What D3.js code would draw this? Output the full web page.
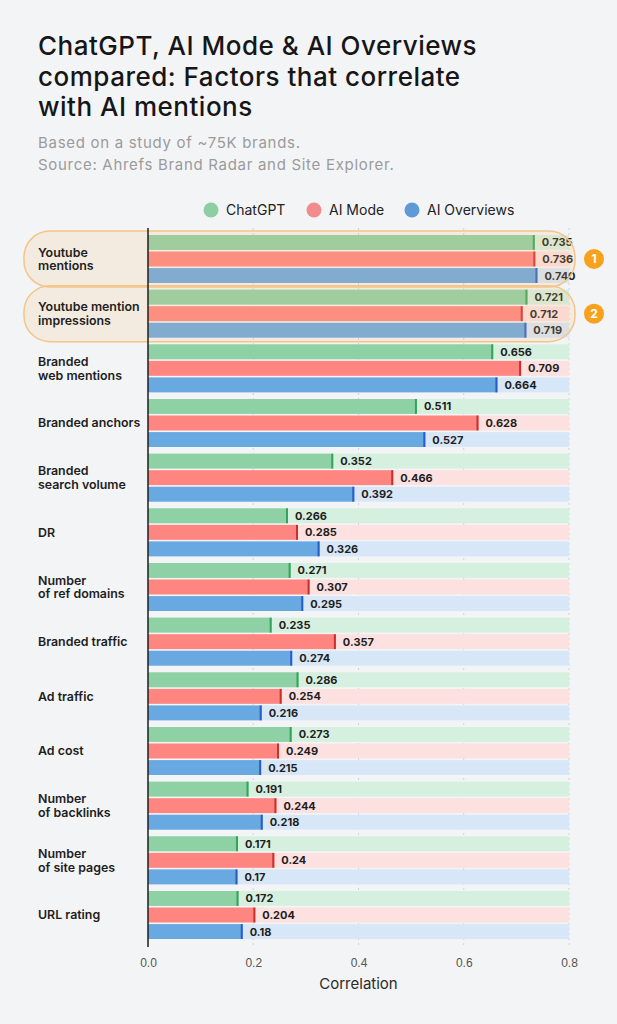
<!DOCTYPE html>
<html lang="en">
<head>
<meta charset="UTF-8">
<title>ChatGPT, AI Mode & AI Overviews compared</title>
<script src="https://cdnjs.cloudflare.com/ajax/libs/d3/7.8.5/d3.min.js"></script>
<style>
    body { margin: 0; background: #f3f4f6; }
    svg { display: block; font-family: Inter, "Noto Sans", sans-serif; }
    .title { font-size: 26px; font-weight: 500; fill: #161616; letter-spacing: 0.5px; }
    .subtitle { font-size: 15px; fill: #9b9b9b; letter-spacing: 0.7px; }
    .cat { font-size: 12.4px; font-weight: 600; fill: #1e1e1e; }
    .val { font-size: 11px; font-weight: 700; fill: #1e1e1e; }
    .tick text { font-size: 12px; fill: #555; }
</style>
</head>
<body>
<div id="chart"></div>
<script>
    // data
    const categories = [
        "Youtube\nmentions",
        "Youtube mention\nimpressions",
        "Branded\nweb mentions",
        "Branded anchors",
        "Branded\nsearch volume",
        "DR",
        "Number\nof ref domains",
        "Branded traffic",
        "Ad traffic",
        "Ad cost",
        "Number\nof backlinks",
        "Number\nof site pages",
        "URL rating"
    ];
    const series = ["ChatGPT", "AI Mode", "AI Overviews"];
    const chatgpt = ["0.735", "0.721", "0.656", "0.511", "0.352", "0.266", "0.271", "0.235", "0.286", "0.273", "0.191", "0.171", "0.172"];
    const aiMode = ["0.736", "0.712", "0.709", "0.628", "0.466", "0.285", "0.307", "0.357", "0.254", "0.249", "0.244", "0.24", "0.204"];
    const aiOverviews = ["0.740", "0.719", "0.664", "0.527", "0.392", "0.326", "0.295", "0.274", "0.216", "0.215", "0.218", "0.17", "0.18"];
    const ticks = [0, 0.2, 0.4, 0.6, 0.8];
    const highlighted = [0, 1];

    const colors = {
        "ChatGPT": { bar: "#8dd1a4", track: "#d6f0e0", cap: "#35a35a", dot: "#8dcea2" },
        "AI Mode": { bar: "#ff8580", track: "#fde0e0", cap: "#c9302b", dot: "#f08c8c" },
        "AI Overviews": { bar: "#69a9e1", track: "#d7e7f8", cap: "#2a5cc9", dot: "#5e9bd6" }
    };

    const rows = categories.map((c, i) => ({
        name: c,
        values: [chatgpt[i], aiMode[i], aiOverviews[i]].map((v, j) => ({ key: series[j], label: v, value: +v }))
    }));

    const width = 617, height = 1024;
    const svg = d3.select("#chart").append("svg")
        .attr("width", width)
        .attr("height", height);

    svg.append("rect").attr("width", width).attr("height", height).attr("fill", "#f3f4f6");

    // titles
    const title = svg.append("text").attr("class", "title").attr("x", 38).attr("y", 55);
    ["ChatGPT, AI Mode & AI Overviews", "compared: Factors that correlate", "with AI mentions"].forEach((t, i) => {
        title.append("tspan").attr("x", 38).attr("dy", i ? 30.5 : 0).text(t);
    });
    svg.append("text").attr("class", "subtitle").attr("x", 38).attr("y", 148).text("Based on a study of ~75K brands.");
    svg.append("text").attr("class", "subtitle").attr("x", 38).attr("y", 170).text("Source: Ahrefs Brand Radar and Site Explorer.");

    // legend
    const legendX = [211, 314, 412];
    const legend = svg.append("g").selectAll("g").data(series).join("g")
        .attr("transform", (d, i) => `translate(${legendX[i]},210)`);
    legend.append("circle").attr("r", 7.5).attr("fill", d => colors[d].dot);
    legend.append("text").attr("x", 15).attr("dy", "0.35em")
        .style("font-size", "14px").attr("fill", "#222").text(d => d);

    // scales
    const x = d3.scaleLinear().domain([0, 0.8]).range([148, 569]);
    const y = d3.scaleBand().domain(categories).range([235, 939]).paddingInner(0.122).paddingOuter(0);
    const ySub = d3.scaleBand().domain(series).range([0, y.bandwidth()]).paddingInner(0.1);

    const plotTop = 228, plotBottom = 947;

    // grid
    svg.append("g").selectAll("line").data(ticks.slice(1)).join("line")
        .attr("x1", d => x(d)).attr("x2", d => x(d))
        .attr("y1", plotTop).attr("y2", plotBottom)
        .attr("stroke", "#cfd3d8").attr("stroke-width", 1).attr("stroke-dasharray", "2,3");

    // bars
    const group = svg.append("g").selectAll("g").data(rows).join("g")
        .attr("transform", d => `translate(0,${y(d.name)})`);

    const bar = group.selectAll("g").data(d => d.values).join("g")
        .attr("transform", d => `translate(0,${ySub(d.key)})`);

    bar.append("rect")
        .attr("x", x(0)).attr("width", x(0.8) - x(0))
        .attr("height", ySub.bandwidth())
        .attr("fill", d => colors[d.key].track);
    bar.append("rect")
        .attr("x", x(0)).attr("width", d => x(d.value) - x(0))
        .attr("height", ySub.bandwidth())
        .attr("fill", d => colors[d.key].bar);
    bar.append("rect")
        .attr("x", d => x(d.value) - 2).attr("width", 2)
        .attr("height", ySub.bandwidth())
        .attr("fill", d => colors[d.key].cap);
    bar.append("text").attr("class", "val")
        .attr("x", d => x(d.value) + 7)
        .attr("y", ySub.bandwidth() / 2)
        .attr("dy", "0.36em")
        .text(d => d.label);

    // highlight boxes
    const hl = svg.append("g").selectAll("g").data(highlighted).join("g");
    hl.append("rect")
        .attr("x", 24).attr("width", 551)
        .attr("y", i => y(categories[i]) + y.bandwidth() / 2 - 28)
        .attr("height", 56)
        .attr("rx", 26)
        .attr("fill", "rgba(244,190,125,0.18)")
        .attr("stroke", "#f3c588").attr("stroke-width", 1.5);
    hl.append("circle")
        .attr("cx", 594)
        .attr("cy", i => y(categories[i]) + y.bandwidth() / 2)
        .attr("r", 10)
        .attr("fill", "#f7a11d");
    hl.append("text")
        .attr("x", 594)
        .attr("y", i => y(categories[i]) + y.bandwidth() / 2)
        .attr("dy", "0.36em")
        .attr("text-anchor", "middle")
        .attr("fill", "#fff").style("font-size", "12px").style("font-weight", 700)
        .text(i => i + 1);

    // category labels
    const cat = svg.append("g").selectAll("text").data(rows).join("text")
        .attr("class", "cat")
        .attr("y", d => y(d.name) + y.bandwidth() / 2);
    cat.each(function(d) {
        const lines = d.name.split("\n");
        const t = d3.select(this);
        lines.forEach((l, i) => {
            t.append("tspan")
                .attr("x", 38)
                .attr("dy", i === 0 ? `${0.36 - (lines.length - 1) * 0.56}em` : "1.12em")
                .text(l);
        });
    });

    // axis
    svg.append("line")
        .attr("x1", x(0)).attr("x2", x(0))
        .attr("y1", plotTop).attr("y2", plotBottom)
        .attr("stroke", "#1e1e1e").attr("stroke-width", 1.5);

    const axis = svg.append("g")
        .attr("transform", `translate(0,${plotBottom})`)
        .call(d3.axisBottom(x).tickValues(ticks).tickFormat(d3.format(".1f")).tickSize(0).tickPadding(11));
    axis.select(".domain").remove();

    svg.append("text")
        .attr("x", (x(0) + x(0.8)) / 2).attr("y", 989)
        .attr("text-anchor", "middle")
        .style("font-size", "15px").attr("fill", "#2a2a2a")
        .text("Correlation");
</script>
</body>
</html>
